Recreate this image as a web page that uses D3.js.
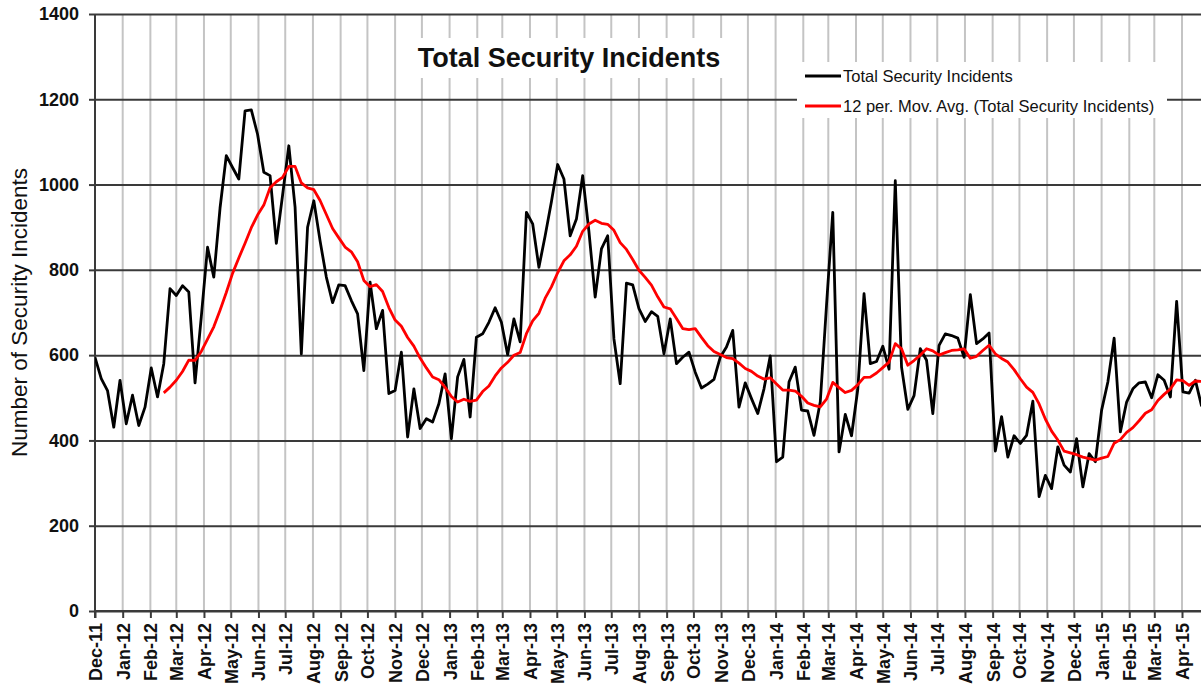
<!DOCTYPE html>
<html>
<head>
<meta charset="utf-8">
<script src="https://cdn.jsdelivr.net/npm/d3@7"></script>
<style>
  html, body { margin: 0; padding: 0; background: #fff; }
  svg { display: block; font-family: "Liberation Sans", Arial, sans-serif; }
</style>
</head>
<body>
<svg id="chart" width="1201" height="691"></svg>
<script>
// ---- data (weekly, starting 1 Dec 2011) ----
const startDate = new Date(2011, 11, 1);
const incidents = [
  595, 545, 517, 431, 541, 439, 506, 435, 478, 570,
  502, 580, 756, 740, 763, 748, 535, 690, 853, 783,
  945, 1068, 1040, 1013, 1173, 1175, 1118, 1029, 1021, 862,
  975, 1091, 947, 603, 900, 962, 868, 783, 723, 765,
  763, 728, 697, 564, 771, 662, 705, 510, 517, 607,
  408, 521, 428, 451, 443, 486, 556, 404, 549, 590,
  455, 642, 650, 677, 711, 677, 601, 685, 631, 935,
  908, 806, 880, 960, 1047, 1013, 880, 919, 1021, 890,
  736, 849, 880, 638, 533, 769, 765, 709, 679, 702,
  691, 603, 685, 580, 595, 607, 560, 523, 532, 543,
  595, 619, 658, 478, 535, 498, 463, 521, 598, 350,
  361, 537, 572, 471, 469, 412, 490, 717, 935, 373,
  461, 411, 520, 744, 580, 585, 621, 567, 1009, 572,
  473, 505, 615, 588, 463, 623, 650, 646, 640, 595,
  742, 627, 638, 652, 375, 456, 361, 411, 393, 412,
  492, 268, 318, 287, 385, 342, 326, 404, 291, 369,
  350, 471, 537, 640, 420, 490, 521, 535, 537, 500,
  554, 541, 502, 726, 514, 511, 541, 480
];
const maPeriod = 12;
const yTicks = [0, 200, 400, 600, 800, 1000, 1200, 1400];
const titleText = "Total Security Incidents";
const yTitle = "Number of Security Incidents";
const legendLabels = ["Total Security Incidents", "12 per. Mov. Avg. (Total Security Incidents)"];
const seriesColors = ["#000000", "#ff0000"];

// ---- derived ----
const weekly = incidents.map((v, i) => ({ date: d3.timeDay.offset(startDate, 7 * i), value: v }));
const movAvg = weekly.slice(maPeriod - 1).map((d, k) => ({
  date: d.date,
  value: d3.mean(incidents.slice(k, k + maPeriod))
}));

const svg = d3.select("#chart");
const pL = 95, pT = 14, pB = 611, pR = 1201;

const x = d3.scaleTime()
  .domain([new Date(2011, 11, 1), new Date(2015, 3, 1)])
  .range([pL, 1182]);
const y = d3.scaleLinear().domain([0, 1400]).range([pB, pT]);

const months = d3.timeMonth.range(new Date(2011, 11, 1), new Date(2015, 3, 2));
const fmt = d3.timeFormat("%b-%y");

svg.append("defs").append("clipPath").attr("id", "plotclip")
  .append("rect").attr("x", pL).attr("y", 0).attr("width", pR - pL + 2).attr("height", pB + 2);

// vertical month gridlines
svg.append("g").selectAll("line").data(months).join("line")
  .attr("x1", d => x(d)).attr("x2", d => x(d))
  .attr("y1", pT).attr("y2", pB)
  .attr("stroke", "#c4c4c4").attr("stroke-width", 2);

// horizontal gridlines via axis
const yAxis = d3.axisLeft(y).tickValues(yTicks).tickFormat(d3.format("d"))
  .tickSize(-(pR - pL)).tickSizeOuter(0).tickPadding(16);
const yg = svg.append("g").attr("transform", `translate(${pL},0)`).call(yAxis);
yg.select(".domain").remove();
yg.selectAll(".tick line").attr("stroke", "#3a3a3a").attr("stroke-width", 2);
yg.selectAll(".tick").append("line").attr("x1", -6).attr("x2", 0).attr("stroke", "#3a3a3a").attr("stroke-width", 2);
yg.selectAll(".tick text")
  .attr("font-size", 18).attr("font-weight", "bold").attr("fill", "#111")
  .attr("font-family", "Liberation Sans, Arial, sans-serif");

// x axis
const xAxis = d3.axisBottom(x).tickValues(months).tickFormat(fmt).tickSize(7).tickSizeOuter(0);
const xg = svg.append("g").attr("transform", `translate(0,${pB})`).call(xAxis);
xg.select(".domain").attr("stroke", "#3a3a3a").attr("stroke-width", 2).attr("d", `M${pL},0H${pR}`);
xg.selectAll(".tick line").attr("stroke", "#3a3a3a").attr("stroke-width", 2);
xg.selectAll(".tick text")
  .attr("transform", "rotate(-90)")
  .attr("text-anchor", "end")
  .attr("x", -12).attr("y", 0).attr("dy", "0.36em")
  .attr("font-size", 18).attr("font-weight", "bold").attr("fill", "#111")
  .attr("font-family", "Liberation Sans, Arial, sans-serif");

// left axis line
svg.append("line").attr("x1", pL).attr("x2", pL).attr("y1", pT).attr("y2", pB + 7)
  .attr("stroke", "#3a3a3a").attr("stroke-width", 2);

// title box
svg.append("rect").attr("x", 413).attr("y", 38).attr("width", 312).attr("height", 40).attr("fill", "#fff");
svg.append("text").attr("x", 569).attr("y", 67).attr("text-anchor", "middle")
  .attr("font-size", 27).attr("font-weight", "bold").attr("fill", "#111").text(titleText);

// y title
svg.append("text").attr("transform", `translate(27,${(pT + pB) / 2}) rotate(-90)`)
  .attr("text-anchor", "middle").attr("font-size", 22.5).attr("fill", "#111").text(yTitle);

// lines
const line = d3.line().x(d => x(d.date)).y(d => y(d.value));
const plot = svg.append("g").attr("clip-path", "url(#plotclip)");
plot.append("path").datum(weekly).attr("d", line)
  .attr("fill", "none").attr("stroke", seriesColors[0]).attr("stroke-width", 2.8).attr("stroke-linejoin", "round");
plot.append("path").datum(movAvg).attr("d", line)
  .attr("fill", "none").attr("stroke", seriesColors[1]).attr("stroke-width", 2.8).attr("stroke-linejoin", "round");

// legend
const lg = svg.append("g");
lg.append("rect").attr("x", 797).attr("y", 62).attr("width", 370).attr("height", 56).attr("fill", "#fff");
legendLabels.forEach((lab, i) => {
  const ly = 76 + i * 30;
  lg.append("line").attr("x1", 805).attr("x2", 841).attr("y1", ly).attr("y2", ly)
    .attr("stroke", seriesColors[i]).attr("stroke-width", 2.8);
  lg.append("text").attr("x", 843).attr("y", ly).attr("dy", "0.36em")
    .attr("font-size", 16.5).attr("fill", "#111").text(lab);
});
</script>
</body>
</html>
